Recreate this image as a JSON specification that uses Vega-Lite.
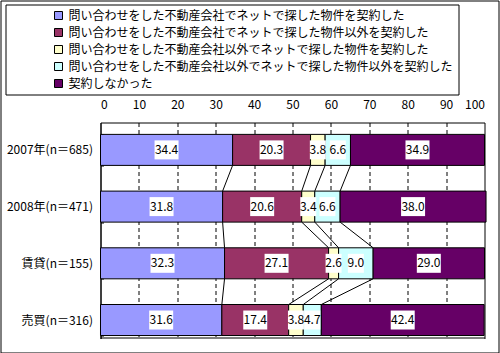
{
  "$schema": "https://vega.github.io/schema/vega-lite/v6.json",
  "width": 498,
  "height": 352,
  "autosize": "none",
  "padding": {"left": 0.5, "top": 0.5, "right": 1, "bottom": 0.5},
  "background": "white",
  "config": {
    "view": {"stroke": "black", "strokeWidth": 1},
    "font": "Noto Sans CJK JP",
    "axis": {"labelFont": "Noto Sans CJK JP", "labelFontSize": 12, "labelColor": "black", "domainColor": "black", "tickColor": "black", "title": null}
  },
  "data": {
    "values": [
      {"cat": "2007年(n＝685)", "ci": 1, "s": "問い合わせをした不動産会社でネットで探した物件を契約した", "si": 1, "v": 34.4},
      {"cat": "2007年(n＝685)", "ci": 1, "s": "問い合わせをした不動産会社でネットで探した物件以外を契約した", "si": 2, "v": 20.3},
      {"cat": "2007年(n＝685)", "ci": 1, "s": "問い合わせをした不動産会社以外でネットで探した物件を契約した", "si": 3, "v": 3.8},
      {"cat": "2007年(n＝685)", "ci": 1, "s": "問い合わせをした不動産会社以外でネットで探した物件以外を契約した", "si": 4, "v": 6.6},
      {"cat": "2007年(n＝685)", "ci": 1, "s": "契約しなかった", "si": 5, "v": 34.9},
      {"cat": "2008年(n＝471)", "ci": 2, "s": "問い合わせをした不動産会社でネットで探した物件を契約した", "si": 1, "v": 31.8},
      {"cat": "2008年(n＝471)", "ci": 2, "s": "問い合わせをした不動産会社でネットで探した物件以外を契約した", "si": 2, "v": 20.6},
      {"cat": "2008年(n＝471)", "ci": 2, "s": "問い合わせをした不動産会社以外でネットで探した物件を契約した", "si": 3, "v": 3.4},
      {"cat": "2008年(n＝471)", "ci": 2, "s": "問い合わせをした不動産会社以外でネットで探した物件以外を契約した", "si": 4, "v": 6.6},
      {"cat": "2008年(n＝471)", "ci": 2, "s": "契約しなかった", "si": 5, "v": 38.0},
      {"cat": "賃貸(n＝155)", "ci": 3, "s": "問い合わせをした不動産会社でネットで探した物件を契約した", "si": 1, "v": 32.3},
      {"cat": "賃貸(n＝155)", "ci": 3, "s": "問い合わせをした不動産会社でネットで探した物件以外を契約した", "si": 2, "v": 27.1},
      {"cat": "賃貸(n＝155)", "ci": 3, "s": "問い合わせをした不動産会社以外でネットで探した物件を契約した", "si": 3, "v": 2.6},
      {"cat": "賃貸(n＝155)", "ci": 3, "s": "問い合わせをした不動産会社以外でネットで探した物件以外を契約した", "si": 4, "v": 9.0},
      {"cat": "賃貸(n＝155)", "ci": 3, "s": "契約しなかった", "si": 5, "v": 29.0},
      {"cat": "売買(n＝316)", "ci": 4, "s": "問い合わせをした不動産会社でネットで探した物件を契約した", "si": 1, "v": 31.6},
      {"cat": "売買(n＝316)", "ci": 4, "s": "問い合わせをした不動産会社でネットで探した物件以外を契約した", "si": 2, "v": 17.4},
      {"cat": "売買(n＝316)", "ci": 4, "s": "問い合わせをした不動産会社以外でネットで探した物件を契約した", "si": 3, "v": 3.8},
      {"cat": "売買(n＝316)", "ci": 4, "s": "問い合わせをした不動産会社以外でネットで探した物件以外を契約した", "si": 4, "v": 4.7},
      {"cat": "売買(n＝316)", "ci": 4, "s": "契約しなかった", "si": 5, "v": 42.4}
    ]
  },
  "transform": [
    {"stack": "v", "groupby": ["cat"], "sort": [{"field": "si", "order": "ascending"}], "as": ["x0", "x1"]}
  ],
  "encoding": {
    "y": {
      "field": "cat", "type": "nominal",
      "sort": ["2007年(n＝685)", "2008年(n＝471)", "賃貸(n＝155)", "売買(n＝316)"],
      "scale": {"range": [122, 338], "paddingInner": 0.453, "paddingOuter": 0.131, "align": 0.8},
      "axis": {"orient": "left", "offset": -100, "tickBand": "extent", "tickSize": -3, "labelPadding": 11, "grid": false, "labelFont": "Noto Sans CJK JP"}
    }
  },
  "layer": [
    {
      "mark": {"type": "bar", "stroke": "black", "strokeWidth": 1},
      "encoding": {
        "x": {
          "field": "x0", "type": "quantitative",
          "scale": {"domain": [0, 100], "range": [100, 484], "nice": false},
          "axis": {
            "orient": "top", "offset": -122, "values": [0, 10, 20, 30, 40, 50, 60, 70, 80, 90, 100],
            "ticks": false, "labelPadding": 11, "grid": true, "gridColor": "black",
            "gridDash": {"condition": {"test": "datum.value == 0 || datum.value == 100", "value": []}, "value": [4, 3]},
            "gridOpacity": 1
          }
        },
        "x2": {"field": "x1"},
        "color": {
          "field": "s", "type": "nominal",
          "sort": ["問い合わせをした不動産会社でネットで探した物件を契約した", "問い合わせをした不動産会社でネットで探した物件以外を契約した", "問い合わせをした不動産会社以外でネットで探した物件を契約した", "問い合わせをした不動産会社以外でネットで探した物件以外を契約した", "契約しなかった"],
          "scale": {"range": ["#9999FF", "#993366", "#FFFFCC", "#CCFFFF", "#660066"]},
          "legend": {
            "orient": "none", "legendX": 5, "legendY": 4, "title": null, "direction": "vertical",
            "strokeColor": "black", "padding": 5, "symbolOffset": 42, "labelOffset": 4,
            "symbolType": "square", "symbolSize": 64, "symbolStrokeColor": "black", "symbolStrokeWidth": 1,
            "labelFont": "Noto Sans CJK JP", "labelFontSize": 12, "labelColor": "black", "labelLimit": 600,
            "rowPadding": 5,
            "labelExpr": "datum.label + '　　　  '"
          }
        }
      }
    },
    {
      "transform": [
        {"window": [{"op": "lead", "field": "x1", "as": "nx"}, {"op": "lead", "field": "cat", "as": "ncat"}], "groupby": ["s"], "sort": [{"field": "ci", "order": "ascending"}]},
        {"filter": "datum.ncat != null && datum.si < 5"}
      ],
      "mark": {"type": "rule", "color": "black", "strokeWidth": 1, "yOffset": 15.5, "y2Offset": -15.5},
      "encoding": {
        "x": {"field": "x1", "type": "quantitative", "axis": {"orient": "bottom", "offset": -15, "labels": false, "ticks": false, "grid": false, "domain": true}},
        "x2": {"field": "nx"},
        "y2": {"field": "ncat"}
      }
    },
    {
      "transform": [{"calculate": "(datum.x0 + datum.x1) / 2", "as": "xm"}],
      "mark": {"type": "point", "filled": true, "color": "white", "opacity": 1, "size": 400, "strokeWidth": 0},
      "encoding": {
        "x": {"field": "xm", "type": "quantitative", "axis": null},
        "shape": {"condition": {"test": "datum.v < 10", "value": "M-0.8,-0.95L0.8,-0.95L0.8,0.95L-0.8,0.95Z"}, "value": "M-1.2,-0.95L1.2,-0.95L1.2,0.95L-1.2,0.95Z"}
      }
    },
    {
      "transform": [{"calculate": "(datum.x0 + datum.x1) / 2", "as": "xm"}],
      "mark": {"type": "text", "font": "Noto Sans CJK JP", "fontSize": 12, "color": "black", "baseline": "middle", "align": "center"},
      "encoding": {
        "x": {"field": "xm", "type": "quantitative", "axis": null},
        "text": {"field": "v", "type": "quantitative", "format": ".1f"}
      }
    }
  ],
  "resolve": {"axis": {"x": "independent"}}
}
